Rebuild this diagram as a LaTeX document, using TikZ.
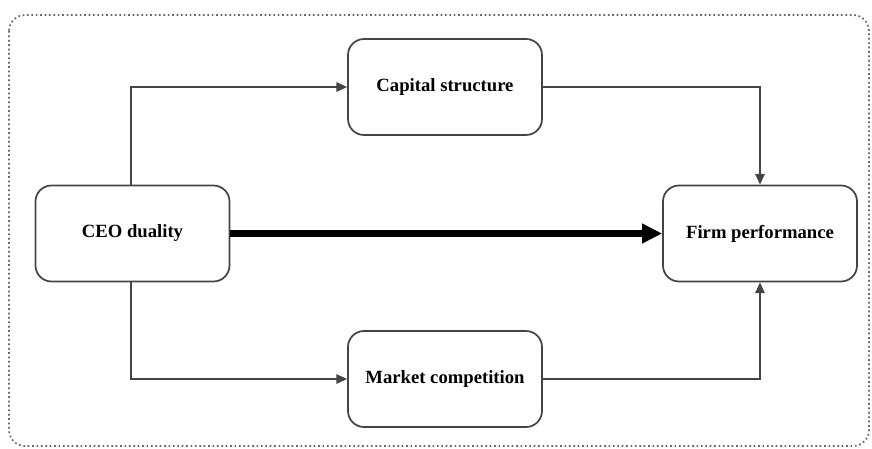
\documentclass[tikz,border=0pt]{standalone}
\usepackage{fontspec}
\setmainfont{Liberation Serif}
\usetikzlibrary{arrows.meta}
\definecolor{linec}{HTML}{444444}
\begin{document}
\begin{tikzpicture}[x=0.75pt,y=-0.75pt,
  box/.style={draw=linec,line width=1.3pt,rounded corners=12pt,minimum width=145.5pt,minimum height=72pt,font=\bfseries\fontsize{14}{16}\selectfont,inner sep=0pt},
  conn/.style={draw=linec,line width=1.1pt,-{Triangle[length=8pt,width=7pt]}},
  thick/.style={draw=black,line width=5pt,-{Triangle[length=15pt,width=14pt]}}]
\useasboundingbox (0,0) rectangle (872,449);
\draw[linec!80,line width=1.3pt,dotted,rounded corners=12pt] (9,15) rectangle (869,446);
\node[box] (cap) at (445,87) {Capital structure};
\node[box] (ceo) at (132.5,233.5) {CEO duality};
\node[box] (firm) at (760,233.5) {Firm performance};
\node[box] (mkt) at (445,379) {Market competition};
\coordinate (c1) at (131,87);
\coordinate (c2) at (131,379);
\coordinate (c3) at (760,87);
\coordinate (c4) at (760,379);
\draw[conn] (ceo.north -| c1) -- (c1) -- (cap.west);
\draw[conn] (ceo.south -| c2) -- (c2) -- (mkt.west);
\draw[conn] (cap.east) -- (c3) -- (firm.north);
\draw[conn] (mkt.east) -- (c4) -- (firm.south);
\draw[thick] (ceo.east) -- (firm.west);
\end{tikzpicture}
\end{document}
